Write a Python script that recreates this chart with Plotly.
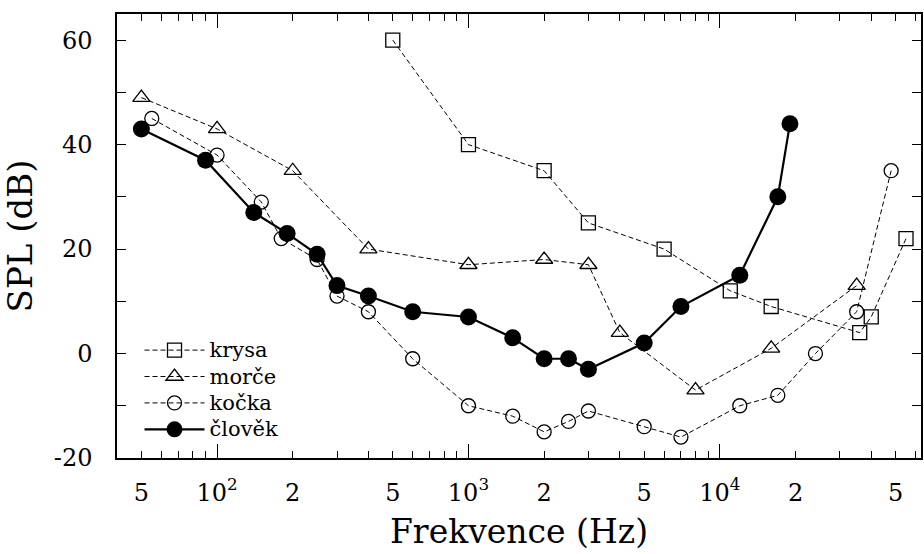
import numpy as np
import plotly.graph_objects as go

# Data (frequency in Hz, SPL in dB)
rat_f = [500, 1000, 2000, 3000, 6000, 11000, 16000, 36000, 40000, 55000]
rat_db = [60, 40, 35, 25, 20, 12, 9, 4, 7, 22]

guinea_f = [50, 100, 200, 400, 1000, 2000, 3000, 4000, 8000, 16000, 35000]
guinea_db = [49, 43, 35, 20, 17, 18, 17, 4, -7, 1, 13]

cat_f = [55, 100, 150, 180, 250, 300, 400, 600, 1000, 1500, 2000, 2500, 3000,
         5000, 7000, 12000, 17000, 24000, 35000, 48000]
cat_db = [45, 38, 29, 22, 18, 11, 8, -1, -10, -12, -15, -13, -11,
          -14, -16, -10, -8, 0, 8, 35]

human_f = [50, 90, 140, 190, 250, 300, 400, 600, 1000, 1500, 2000, 2500, 3000,
           5000, 7000, 12000, 17000, 19000]
human_db = [43, 37, 27, 23, 19, 13, 11, 8, 7, 3, -1, -1, -3,
            2, 9, 15, 30, 44]

series_names = ["krysa", "morče", "kočka", "člověk"]

x_tickvals = [50, 100, 200, 500, 1000, 2000, 5000, 10000, 20000, 50000]
x_ticktext = ["5", "10<sup>2</sup>", "2", "5", "10<sup>3</sup>", "2", "5",
              "10<sup>4</sup>", "2", "5"]
x_decades = [100, 1000, 10000]
y_tickvals = [-20, 0, 20, 40, 60]
y_ticktext = ["-20", "0", "20", "40", "60"]

FONT = "DejaVu Serif"
dash = "5px,3px"


def lname(s):
    return "<span style='font-size:21px'>" + s + "</span>"


fig = go.Figure()
fig.add_trace(go.Scatter(
    x=rat_f, y=rat_db, name=lname(series_names[0]), mode="lines+markers",
    line=dict(color="black", width=1, dash=dash),
    marker=dict(symbol="square-open", size=14, color="black", line=dict(width=1.3))))
fig.add_trace(go.Scatter(
    x=guinea_f, y=guinea_db, name=lname(series_names[1]), mode="lines+markers",
    line=dict(color="black", width=1, dash=dash),
    marker=dict(symbol="triangle-up-open", size=15, color="black", line=dict(width=1.3))))
fig.add_trace(go.Scatter(
    x=cat_f, y=cat_db, name=lname(series_names[2]), mode="lines+markers",
    line=dict(color="black", width=1, dash=dash),
    marker=dict(symbol="circle-open", size=14, color="black", line=dict(width=1.3))))
fig.add_trace(go.Scatter(
    x=human_f, y=human_db, name=lname(series_names[3]), mode="lines+markers",
    line=dict(color="black", width=2.2),
    marker=dict(symbol="circle", size=17, color="black")))

# invisible trace carrying the long decade ticks
fig.add_trace(go.Scatter(x=x_decades, y=[0] * len(x_decades), xaxis="x2",
                         mode="markers", marker=dict(opacity=0),
                         showlegend=False, hoverinfo="skip"))

xrange = [np.log10(40), 4.8]
fig.update_layout(
    width=924, height=554,
    margin=dict(l=117, r=1, t=14, b=96),
    paper_bgcolor="white", plot_bgcolor="white",
    font=dict(family=FONT, size=24, color="black"),
    showlegend=True,
    legend=dict(x=0.028, y=0.284, xanchor="left", yanchor="top",
                bgcolor="rgba(0,0,0,0)", font=dict(family=FONT, size=18),
                itemwidth=60, tracegroupgap=0),
    xaxis=dict(type="log", range=xrange, tickvals=x_tickvals, ticktext=x_ticktext,
               ticks="inside", ticklen=7, tickcolor="black", tickwidth=1,
               minor=dict(ticks="inside", ticklen=7, tickcolor="black",
                          tickvals=[v * d for d in [10, 100, 1000, 10000] for v in [3, 4, 6, 7, 8, 9]]),
               showline=True, linecolor="black", linewidth=1.5, mirror="allticks",
               showgrid=False, zeroline=False, ticklabelstandoff=12,
               tickfont=dict(family=FONT, size=24),
               title=dict(text="Frekvence (Hz)", font=dict(family=FONT, size=33), standoff=14)),
    xaxis2=dict(type="log", range=xrange, overlaying="x", tickvals=x_decades,
                showticklabels=False, ticks="inside", ticklen=14, tickcolor="black",
                tickwidth=1, mirror="ticks", showline=False, showgrid=False,
                zeroline=False, side="bottom"),
    yaxis=dict(range=[-20, 65], tickvals=y_tickvals, ticktext=y_ticktext,
               ticks="inside", ticklen=9, tickcolor="black", tickwidth=1,
               minor=dict(ticks="inside", ticklen=9, tickcolor="black", tickvals=[-10, 10, 30, 50]),
               showline=True, linecolor="black", linewidth=1.5, mirror="allticks",
               showgrid=False, zeroline=False, ticklabelstandoff=18,
               tickfont=dict(family=FONT, size=24),
               title=dict(text="SPL (dB)", font=dict(family=FONT, size=34), standoff=12)),
)

fig.write_html("out.html")
